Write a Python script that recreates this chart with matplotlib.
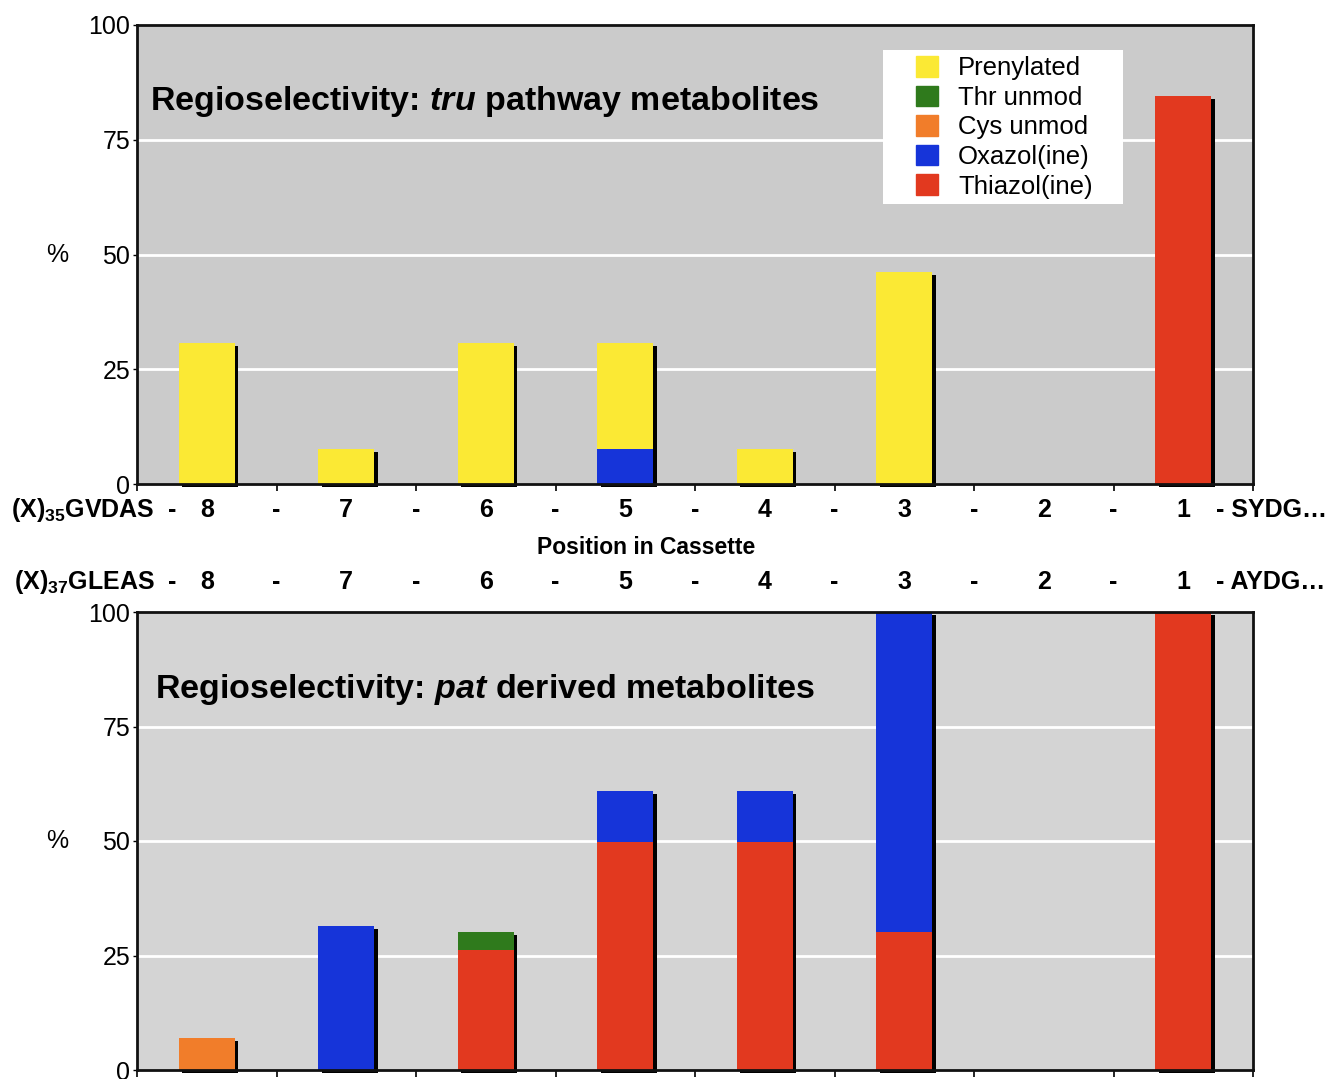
import matplotlib
matplotlib.use('Agg')
import matplotlib.pyplot as plt
from matplotlib.transforms import ScaledTranslation
from matplotlib.patches import Patch, Rectangle
import numpy as np

plt.rcParams['font.family'] = ['Liberation Sans', 'DejaVu Sans']
plt.rcParams['mathtext.fontset'] = 'custom'
plt.rcParams['mathtext.rm'] = 'Liberation Sans:bold'
plt.rcParams['mathtext.it'] = 'Liberation Sans:bold:italic'
plt.rcParams['mathtext.bf'] = 'Liberation Sans:bold'

# 数据：位置 8 -> 1
positions = ['8', '7', '6', '5', '4', '3', '2', '1']
series = ['Prenylated', 'Thr unmod', 'Cys unmod', 'Oxazol(ine)', 'Thiazol(ine)']
colors = {'Prenylated': '#fbe934', 'Thr unmod': '#2f7a1c', 'Cys unmod': '#f17d2a',
          'Oxazol(ine)': '#1634d9', 'Thiazol(ine)': '#e2391f'}

# tru 通路（堆叠顺序：底部在前）
tru_oxazol = [0, 0, 0, 7.7, 0, 0, 0, 0]
tru_prenyl = [30.8, 7.7, 30.8, 23.1, 7.7, 46.2, 0, 0]
tru_thiazol = [0, 0, 0, 0, 0, 0, 0, 84.6]

# pat 衍生
pat_cys = [7.0, 0, 0, 0, 0, 0, 0, 0]
pat_thiazol = [0, 0, 26.3, 49.7, 49.7, 30.2, 0, 100]
pat_thr = [0, 0, 3.9, 0, 0, 0, 0, 0]
pat_oxazol = [0, 31.5, 0, 11.3, 11.3, 69.8, 0, 0]

top_stack = [('Oxazol(ine)', tru_oxazol), ('Prenylated', tru_prenyl), ('Thiazol(ine)', tru_thiazol)]
bot_stack = [('Cys unmod', pat_cys), ('Thiazol(ine)', pat_thiazol), ('Thr unmod', pat_thr),
             ('Oxazol(ine)', pat_oxazol)]

W, H = 1334, 1079
fig = plt.figure(figsize=(W / 100, H / 100), dpi=100)
ax1 = fig.add_axes([137 / W, 1 - 484 / H, 1116 / W, 459 / H])
ax2 = fig.add_axes([137 / W, 1 - 1070 / H, 1116 / W, 458 / H])

x = np.arange(len(positions))
bw = 0.4


def draw_panel(ax, stack, bg):
    ax.set_facecolor(bg)
    ax.set_xlim(-0.5, len(positions) - 0.5)
    ax.set_ylim(0, 100)
    for yv in [25, 50, 75]:
        ax.axhline(yv, color='white', lw=2, zorder=1)
    totals = np.sum([v for _, v in stack], axis=0)
    shadow = ScaledTranslation(3.5 / 100, -3 / 100, fig.dpi_scale_trans)
    ax.bar(x, totals, bw, color='black', transform=ax.transData + shadow,
           zorder=2, clip_on=False)
    bottom = np.zeros(len(positions))
    for name, vals in stack:
        ax.bar(x, vals, bw, bottom=bottom, color=colors[name], zorder=3)
        bottom += np.array(vals)
    ax.set_yticks([0, 25, 50, 75, 100])
    ax.set_yticklabels(['0', '25', '50', '75', '100'], fontsize=18)
    ax.tick_params(axis='y', length=3, width=1, pad=2)
    ax.set_xticks(np.arange(len(positions) + 1) - 0.5)
    ax.set_xticklabels([])
    ax.tick_params(axis='x', length=5, width=1.2, direction='out')
    for sp in ax.spines.values():
        sp.set_linewidth(2)
        sp.set_color('#111111')
        sp.set_zorder(5)
    ax.text(-0.062, 0.5, '%', transform=ax.transAxes, fontsize=18, ha='right', va='center')


draw_panel(ax1, top_stack, '#cbcbcb')
draw_panel(ax2, bot_stack, '#d4d4d4')

ax1.text(0.012, 0.815, r'Regioselectivity: $tru$ pathway metabolites', transform=ax1.transAxes,
         fontsize=24.5, fontweight='bold', va='baseline')
ax2.text(0.016, 0.8125, r'Regioselectivity: $pat$ derived metabolites', transform=ax2.transAxes,
         fontsize=24.5, fontweight='bold', va='baseline')

# 图例：白色底框手动绘制
ax1.add_patch(Rectangle((0.6685, 0.610), 0.215, 0.3355, transform=ax1.transAxes,
                        facecolor='white', edgecolor='none', zorder=6))
handles = [Patch(color=colors[s]) for s in series]
leg = ax1.legend(handles, series, loc='upper left', bbox_to_anchor=(0.698, 0.9325),
                 fontsize=18.5, frameon=False,
                 handlelength=0.86, handleheight=0.86, handletextpad=0.78,
                 labelspacing=0.21, borderpad=0, borderaxespad=0)
leg.set_zorder(7)


def seq_row(ypix, left, right):
    yf = 1 - ypix / H
    fig.text(155 / W, yf, left, fontsize=18, fontweight='bold', ha='right', va='center')
    fig.text(172 / W, yf, '-', fontsize=18, fontweight='bold', ha='center', va='center')
    for i, p in enumerate(positions):
        xc = ax1.transData.transform((i, 0))[0] / W
        fig.text(xc, yf, p, fontsize=18, fontweight='bold', ha='center', va='center')
        if i < len(positions) - 1:
            xb = ax1.transData.transform((i + 0.5, 0))[0] / W
            fig.text(xb, yf, '-', fontsize=18, fontweight='bold', ha='center', va='center')
    fig.text(1216 / W, yf, '- ' + right, fontsize=18, fontweight='bold', ha='left', va='center')


seq_row(510, r'(X)$_{35}$GVDAS', 'SYDG…')
fig.text(646 / W, 1 - 548 / H, 'Position in Cassette', fontsize=16.5, fontweight='bold',
         ha='center', va='center')
seq_row(582, r'(X)$_{37}$GLEAS', 'AYDG…')

fig.savefig('out.png', dpi=100)
